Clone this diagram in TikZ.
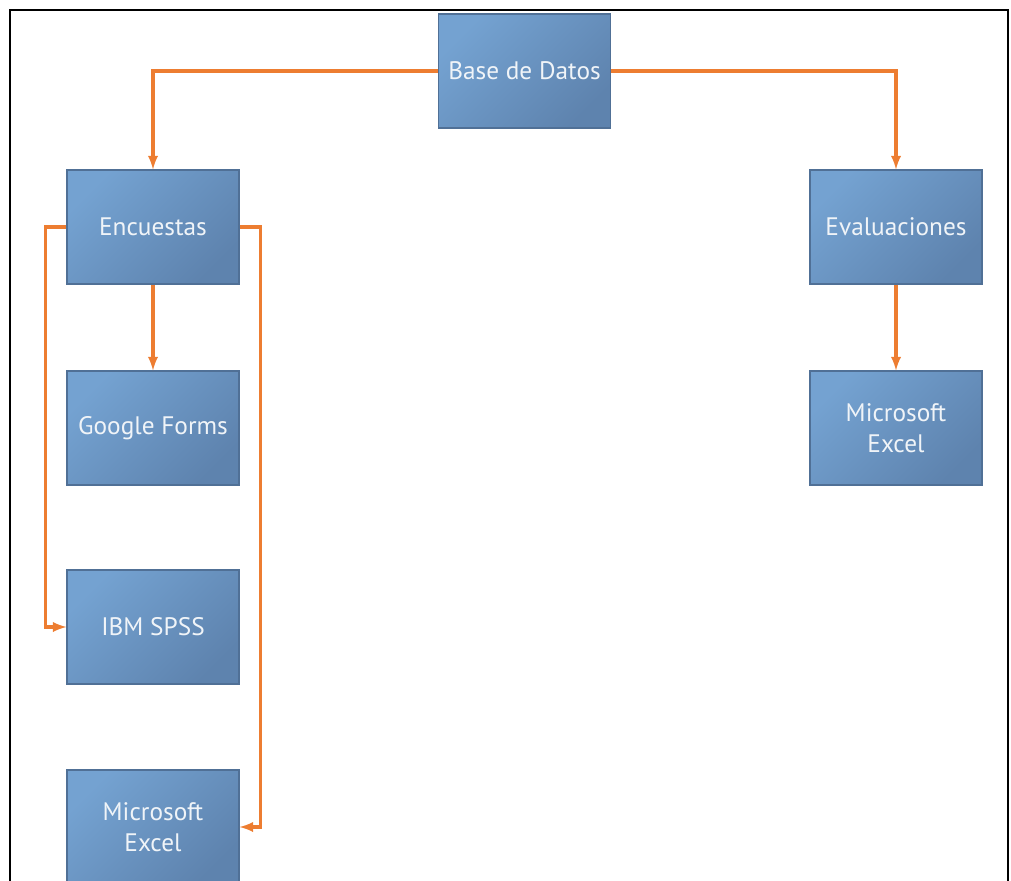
\documentclass[tikz,border=0pt]{standalone}
\usepackage{fontspec}
\setmainfont{PT Sans}
\usetikzlibrary{positioning}
\definecolor{boxlight}{RGB}{116,162,209}
\definecolor{boxdark}{RGB}{94,131,174}
\definecolor{boxline}{RGB}{80,112,150}
\definecolor{linkorange}{RGB}{237,125,49}
\definecolor{boxtext}{RGB}{240,244,248}
\tikzset{
    caja/.style={draw=boxline, line width=0.8pt, shading=axis, left color=boxlight, right color=boxdark, shading angle=45,
        minimum width=4.3cm, minimum height=2.85cm, inner sep=2pt, align=center,
        text=boxtext, font=\fontsize{18}{22}\selectfont},
    enlace/.style={->, draw=linkorange, line width=2.3pt}
}
\begin{document}
\begin{tikzpicture}[x=0.025cm, y=-0.025cm, >=latex]
    % Marco y recorte
    \useasboundingbox (0,0) rectangle (1011,880);
    \clip (0,0) rectangle (1011,880);
    \draw[line width=2pt, black] (10,900) -- (10,10) -- (1008,10) -- (1008,900);

    % Cajas
    \node[caja] (base) at (524.5,71) {Base de Datos};
    \node[caja] (enc) at (153,227) {Encuestas};
    \node[caja] (eva) at (896,227) {Evaluaciones};
    \node[caja] (gforms) at (153,428) {Google Forms};
    \node[caja] (spss) at (153,627) {IBM SPSS};
    \node[caja] (excelenc) at (153,827) {Microsoft\\Excel};
    \node[caja] (exceleva) at (896,428) {Microsoft\\Excel};

    % Conexiones
    \draw[enlace] (base.west) -| (enc.north);
    \draw[enlace] (base.east) -| (eva.north);
    \draw[enlace] (enc.south) -- (gforms.north);
    \draw[enlace] (enc.west) -- ++(-21,0) |- (spss.west);
    \draw[enlace] (enc.east) -- ++(21,0) |- (excelenc.east);
    \draw[enlace] (eva.south) -- (exceleva.north);
\end{tikzpicture}
\end{document}
